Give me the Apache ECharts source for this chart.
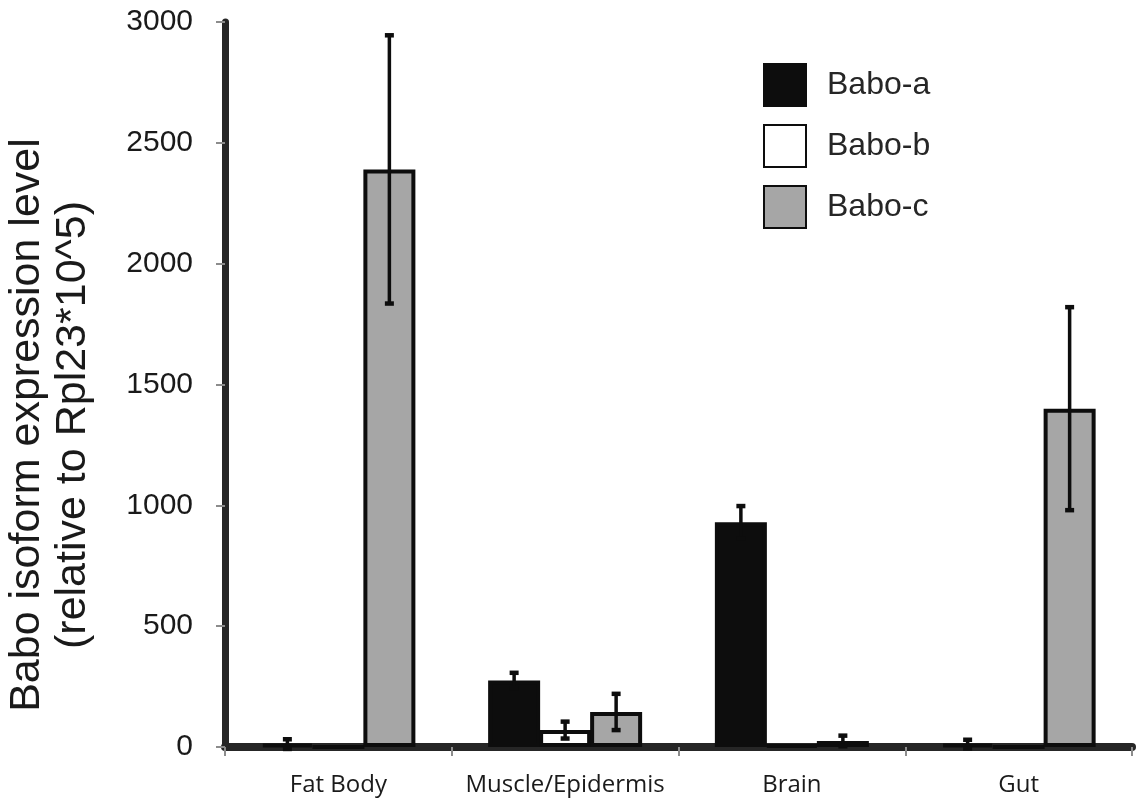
<!DOCTYPE html>
<html>
<head>
<meta charset="utf-8">
<script src="https://cdn.jsdelivr.net/npm/echarts@6/dist/echarts.min.js"></script>
<style>
  html, body { margin: 0; padding: 0; background: #fff; }
  #main { width: 1139px; height: 802px; }
</style>
</head>
<body>
<div id="main"></div>
<script>
var dom = document.getElementById("main");
var myChart = echarts.init(dom);

var categories = ['Fat Body', 'Muscle/Epidermis', 'Brain', 'Gut'];
var seriesNames = ['Babo-a', 'Babo-b', 'Babo-c'];
var baboA = [12, 275, 930, 12];
var baboB = [0, 70, 8, 0];
var baboC = [2390, 145, 25, 1400];
var errA = [20, 32, 67, 18];
var errB = [0, 35, 0, 0];
var errC = [555, 75, 22, 420];
var yTicks = [0, 500, 1000, 1500, 2000, 2500, 3000];
var yTitle = 'Babo isoform expression level\n(relative to Rpl23*10^5)';

var fills = ['#0d0d0d', '#ffffff', '#a6a6a6'];
var edge = '#0d0d0d';
var barW = 52;
var barStep = 51; // centre to centre, bars share their borders

function errData(vals, errs) {
    var res = [];
    for (var i = 0; i < vals.length; i++) {
        if (errs[i] > 0) {
            res.push([i, vals[i] - errs[i], vals[i] + errs[i]]);
        }
    }
    return res;
}

// error bar for the k-th bar of each group
function makeErr(k) {
    return function (params, api) {
        var dx = (k - 1) * barStep;
        var lo = api.coord([api.value(0), api.value(1)]);
        var hi = api.coord([api.value(0), api.value(2)]);
        var x = lo[0] + dx;
        var cap = { stroke: edge, lineWidth: 4.5 };
        return {
            type: 'group',
            children: [
                { type: 'line', shape: { x1: x, y1: lo[1], x2: x, y2: hi[1] }, style: { stroke: edge, lineWidth: 3.5 } },
                { type: 'line', shape: { x1: x - 4.5, y1: lo[1], x2: x + 4.5, y2: lo[1] }, style: cap },
                { type: 'line', shape: { x1: x - 4.5, y1: hi[1], x2: x + 4.5, y2: hi[1] }, style: cap }
            ]
        };
    };
}

var values = [baboA, baboB, baboC];
var errs = [errA, errB, errC];
var series = [];
for (var k = 0; k < 3; k++) {
    series.push({
        name: seriesNames[k],
        type: 'bar',
        data: values[k],
        barWidth: barW,
        barGap: ((barStep - barW) / barW * 100) + '%',
        itemStyle: { color: fills[k], borderColor: edge, borderWidth: 4 },
        emphasis: { disabled: true },
        z: 2
    });
}
for (var k = 0; k < 3; k++) {
    series.push({
        type: 'custom',
        renderItem: makeErr(k),
        data: errData(values[k], errs[k]),
        encode: { x: 0, y: [1, 2] },
        silent: true,
        z: 3
    });
}

var option = {
    backgroundColor: '#ffffff',
    animation: false,
    legend: {
        data: seriesNames,
        orient: 'vertical',
        left: 758,
        top: 58,
        itemWidth: 42,
        itemHeight: 42,
        itemGap: 17,
        icon: 'rect',
        textStyle: {
            fontFamily: 'Liberation Sans',
            fontSize: 32,
            color: '#262626',
            padding: [0, 0, 0, 16]
        }
    },
    graphic: [{
        type: 'text',
        x: 50,
        y: 425,
        rotation: Math.PI / 2,
        style: {
            text: yTitle,
            font: '43px "Liberation Sans"',
            fill: '#1a1a1a',
            align: 'center',
            verticalAlign: 'middle',
            lineHeight: 46
        }
    }],
    grid: {
        left: 225,
        right: 7,
        top: 22,
        bottom: 55,
        containLabel: false,
        outerBoundsMode: 'none'
    },
    xAxis: {
        type: 'category',
        data: categories,
        axisLine: { lineStyle: { color: '#262626', width: 8 } },
        axisTick: { show: true, length: 9, lineStyle: { color: '#8c8c8c', width: 2 } },
        axisLabel: {
            interval: 0,
            margin: 26,
            fontFamily: 'Open Sans',
            fontSize: 24,
            color: '#1a1a1a'
        }
    },
    yAxis: {
        type: 'value',
        min: 0,
        max: 3000,
        interval: 500,
        axisLine: { show: true, lineStyle: { color: '#262626', width: 7 } },
        axisTick: { show: true, length: 9, lineStyle: { color: '#8c8c8c', width: 2 } },
        splitLine: { show: false },
        axisLabel: {
            margin: 32,
            fontFamily: 'Liberation Sans',
            fontSize: 30,
            color: '#1a1a1a',
            formatter: function (v) { return yTicks.indexOf(v) >= 0 ? String(v) : ''; }
        }
    },
    series: series
};
myChart.setOption(option);
</script>
</body>
</html>
